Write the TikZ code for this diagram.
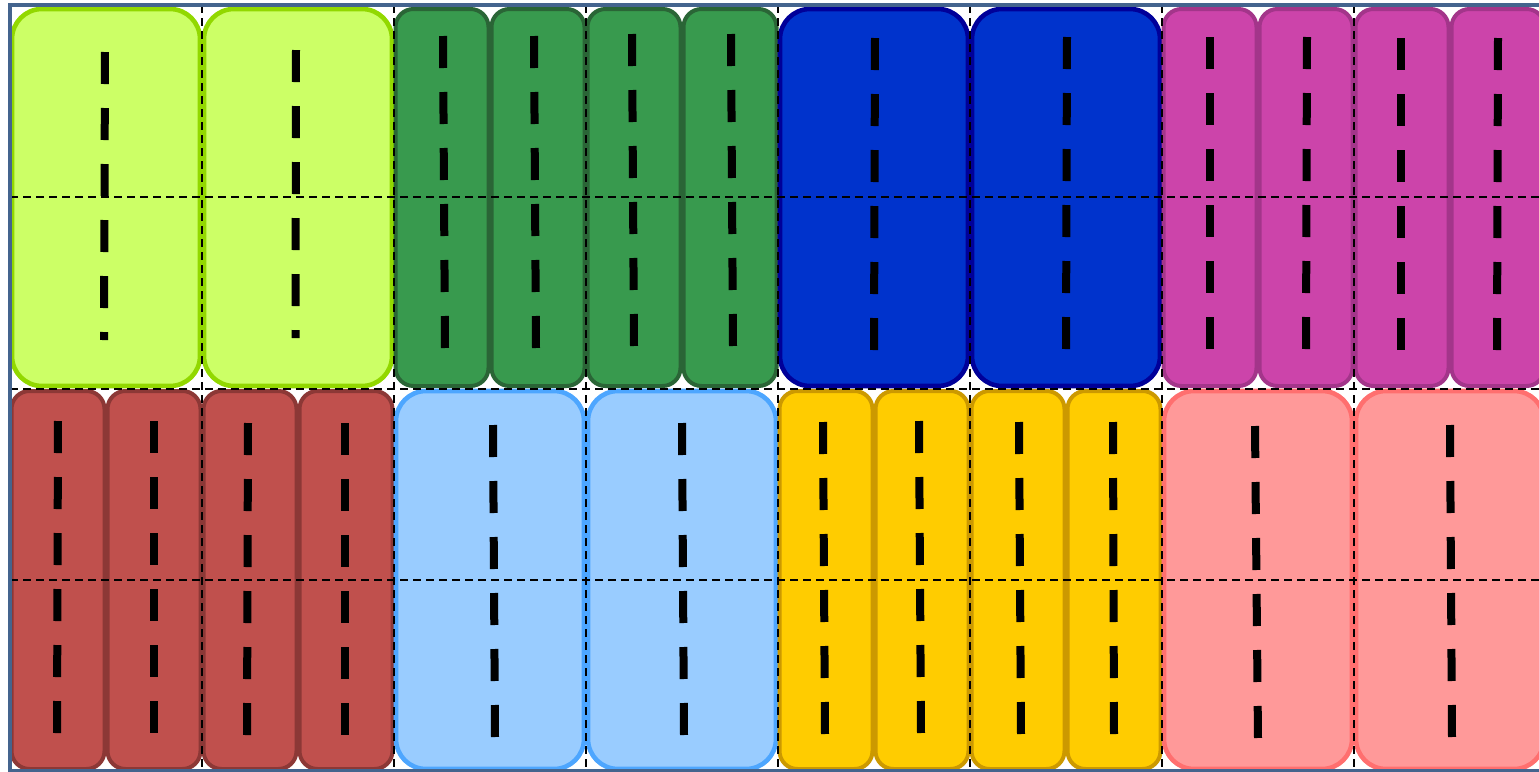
\documentclass[tikz,border=0pt]{standalone}
\definecolor{limeF}{HTML}{CCFF66}\definecolor{limeD}{HTML}{92D800}
\definecolor{grnF}{HTML}{389A4E}\definecolor{grnD}{HTML}{2A6536}
\definecolor{bluF}{HTML}{0033CC}\definecolor{bluD}{HTML}{000099}
\definecolor{magF}{HTML}{CC44AA}\definecolor{magD}{HTML}{A3358A}
\definecolor{redF}{HTML}{C0504D}\definecolor{redD}{HTML}{8C3836}
\definecolor{lbF}{HTML}{99CCFF}\definecolor{lbD}{HTML}{4DA6FF}
\definecolor{yelF}{HTML}{FFCC00}\definecolor{yelD}{HTML}{CC9900}
\definecolor{pnkF}{HTML}{FF9999}\definecolor{pnkD}{HTML}{FF6F6F}
\definecolor{frameC}{HTML}{44648E}
\begin{document}
\begin{tikzpicture}[x=0.5pt,y=-0.5pt,
  lanebox/.style={line width=2pt},
  wide/.style={lanebox,line width=2.3pt,rounded corners=15pt},
  narrow/.style={lanebox,rounded corners=9pt},
  limebox/.style={wide,fill=limeF,draw=limeD},
  grnbox/.style={narrow,fill=grnF,draw=grnD},
  blubox/.style={wide,fill=bluF,draw=bluD},
  magbox/.style={narrow,fill=magF,draw=magD},
  redbox/.style={narrow,fill=redF,draw=redD},
  lbbox/.style={wide,fill=lbF,draw=lbD},
  yelbox/.style={narrow,fill=yelF,draw=yelD},
  pnkbox/.style={wide,fill=pnkF,draw=pnkD},
  road/.style={line width=4pt,dash pattern=on 16pt off 12pt,black},
  gridline/.style={line width=0.75pt,dash pattern=on 4pt off 2.5pt,black}]
\useasboundingbox (0,0) rectangle (1539,772);
\clip (0,0) rectangle (1539,772);
% top row boxes
\foreach \a/\b in {10/202,202/394} \draw[limebox] (\a+2,9) rectangle (\b-2,386);
\foreach \a/\b in {394/490,490/586,586/682,682/778} \draw[grnbox] (\a+1.5,9) rectangle (\b-1.5,386);
\foreach \a/\b in {778/970,970/1162} \draw[blubox] (\a+2,9) rectangle (\b-2,386);
\foreach \a/\b in {1162/1258,1258/1354,1354/1450,1450/1546} \draw[magbox] (\a+1.5,9) rectangle (\b-1.5,386);
% bottom row boxes
\foreach \a/\b in {10/106,106/202,202/298,298/394} \draw[redbox] (\a+1.5,391) rectangle (\b-1.5,769);
\foreach \a/\b in {394/586,586/778} \draw[lbbox] (\a+2,391) rectangle (\b-2,769);
\foreach \a/\b in {778/874,874/970,970/1066,1066/1162} \draw[yelbox] (\a+1.5,391) rectangle (\b-1.5,769);
\foreach \a/\b in {1162/1354,1354/1546} \draw[pnkbox] (\a+2,391) rectangle (\b-2,769);
% lane markings
\draw[road] (105,52) -- (104,340);
\draw[road] (296,50) -- (295.5,338);
\foreach \c/\d/\s in {443/445/36,534/536/36,632/634/34,731/733/34,875/874/38,1067/1066/37,1210/1210/37,1307/1306/37,1401/1401/38,1498/1497/38}
  \draw[road] (\c,\s) -- (\d,\s+312);
\foreach \c/\d/\s in {58/57/421,154/154/421,248/247/423,345/345/423,493/495/425,682/684/423,823/825/422,919/921/421,1019/1021/422,1113/1114/422,1255/1258/426,1450/1452/425}
  \draw[road] (\c,\s) -- (\d,\s+312);
% grid
\foreach \x in {10,202,394,586,778,970,1162,1354} \draw[gridline] (\x,5) -- (\x,772);
\foreach \y in {197,389,580} \draw[gridline] (10,\y) -- (1546,\y);
% frame
\draw[frameC,line width=2pt] (10,5) rectangle (1546,771);
\end{tikzpicture}
\end{document}
